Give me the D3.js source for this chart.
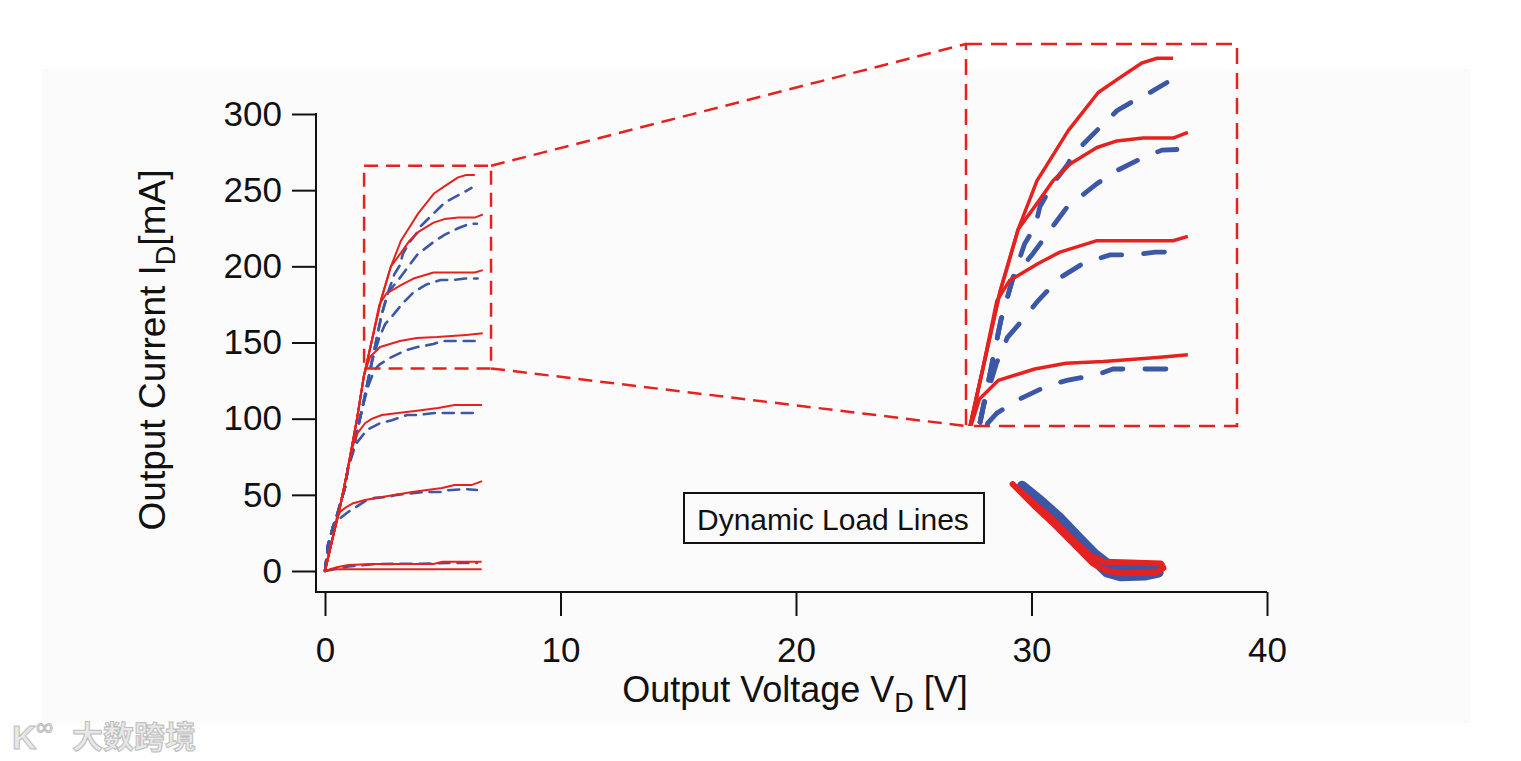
<!DOCTYPE html>
<html>
<head>
<meta charset="utf-8">
<script src="https://cdn.jsdelivr.net/npm/d3@7"></script>
<style>
  body { margin: 0; background: #fff; }
  svg { display: block; font-family: "Liberation Sans", Arial, sans-serif; }
</style>
</head>
<body>
<svg id="chart" width="1521" height="761"></svg>
<script>
const voltTicks = [0, 10, 20, 30, 40];
const currTicks = [0, 50, 100, 150, 200, 250, 300];

// solid red output curves [V, mA]
const redRise = [[0, 0], [0.3, 20], [0.64, 42], [0.98, 68], [1.36, 100], [1.65, 128], [2.0, 152], [2.38, 178], [2.8, 200]];
const red1 = [[0, 0], [0.3, 1.2], [6.65, 1.2]];
const red6 = [[0, 0], [0.5, 2.5], [1.0, 4], [2.0, 4.6], [4.6, 4.6], [5.0, 6.1], [6.65, 6.1]];
const red58 = [[0, 0], [0.3, 20], [0.5, 35], [0.65, 39], [0.85, 41.4], [1.2, 44.5], [1.7, 46.6], [2.42, 48.6], [3.0, 50], [3.7, 51.9], [4.97, 54.5], [5.5, 56.5], [6.24, 56.5], [6.67, 59]];
const red108 = [[0, 0], [0.3, 20], [0.64, 42], [0.98, 68], [1.2, 83], [1.36, 90], [1.7, 97], [2.0, 100], [2.42, 102.4], [3.1, 103.7], [3.82, 105], [4.8, 107], [5.5, 109], [6.67, 109]];
const red155 = [...redRise.slice(0, 6), [1.91, 140.5], [2.34, 147], [3.18, 151], [3.9, 153], [4.76, 153.6], [6.0, 155], [6.7, 156]];
const red197 = [...redRise.slice(0, 7), [2.31, 175], [2.6, 182], [3.26, 188], [3.76, 192], [4.61, 196], [6.36, 196], [6.7, 197.5]];
const red233 = [...redRise, [3.23, 209], [3.6, 217], [4.0, 223], [4.61, 228.7], [5.07, 231], [5.67, 232], [6.36, 232], [6.7, 234]];
const red259 = [...redRise, [3.23, 217], [3.6, 226], [3.95, 234.6], [4.64, 248], [5.07, 252.5], [5.65, 258.4], [5.99, 260], [6.36, 260]];

// dashed blue curves [V, mA]
const blueRise = [[0, 0], [0.13, 17], [0.34, 29], [0.5, 36], [0.85, 55], [0.98, 68], [1.19, 80], [1.6, 108], [2.0, 138], [2.4, 168], [2.68, 183]];
const blue5 = [[0, 0], [1.0, 3], [2.2, 4.6], [4.0, 4.8], [5.4, 5.3], [6.45, 5.3]];
const blue53 = [[0, 0], [0.13, 17], [0.34, 29], [0.55, 33.5], [0.98, 38.7], [1.78, 46.6], [2.12, 48], [2.68, 48.6], [3.06, 50], [3.82, 51.2], [4.25, 51.9], [4.97, 51.9], [5.18, 53], [5.94, 53.8], [6.45, 53.2]];
const blue104 = [...blueRise.slice(0, 6), [1.19, 77.5], [1.27, 82.7], [1.78, 92.6], [2.34, 97], [2.84, 99], [3.48, 102.4], [3.95, 102.4], [4.67, 103.7], [6.45, 103.7]];
const blue151 = [...blueRise.slice(0, 8), [1.85, 122], [2.1, 132], [2.31, 135.5], [2.77, 140], [3.46, 145], [3.92, 147], [4.61, 149], [4.98, 151], [5.65, 151], [6.45, 151]];
const blue192 = [...blueRise.slice(0, 9), [2.3, 153], [2.55, 162], [2.89, 168], [3.26, 175], [3.76, 183], [4.29, 188], [4.91, 191], [5.44, 191], [5.95, 192], [6.48, 192]];
const blue228 = [...blueRise, [3.14, 191.5], [3.58, 200.7], [3.92, 207.7], [4.61, 216], [5.07, 220.6], [5.65, 225], [6.11, 227.8], [6.45, 228]];
const blue251 = [...blueRise, [2.95, 195], [3.19, 201], [3.3, 208], [3.6, 216], [3.95, 223], [4.04, 226], [4.61, 234.7], [5.07, 241.6], [5.45, 245], [5.83, 248], [6.22, 251.5]];

const redCurves = [red1, red6, red58, red108, red155, red197, red233, red259];
const blueCurves = [blue5, blue53, blue104, blue151, blue192, blue228, blue251];

// dynamic load line loops [V, mA]
const loadBlue = [[29.6, 56], [30.4, 46], [31.2, 35], [32.0, 22], [32.7, 11], [33.3, 4], [34.0, 2.5], [35.3, 2.5], [35.4, -1], [34.8, -3], [33.8, -3.5], [33.2, -1], [32.8, 5], [32.1, 17], [31.2, 31], [30.3, 44], [29.6, 56]];
const loadRed = [[29.2, 57], [30.0, 46], [30.9, 34], [31.8, 20], [32.5, 10], [33.1, 6], [34.2, 5.5], [35.5, 5], [35.6, 2], [35.3, -1], [34.0, -1.5], [33.2, 0], [32.6, 5], [31.9, 16], [31.0, 30], [30.1, 43], [29.4, 54], [29.2, 57]];

// zoom window in the main plot and the range shown in the magnified inset
const zoomV = [1.66, 7.05], zoomI = [133, 266];
const insetV = [1.6, 7.83], insetI = [131, 265];

const RED = "#e5221f", BLUE = "#3c57a5";
const svg = d3.select("#chart");

svg.append("rect").attr("x", 42).attr("y", 69).attr("width", 1429).attr("height", 654).attr("fill", "#fbfbfb");

const x = d3.scaleLinear().domain([0, 40]).range([325, 1267]);
const y = d3.scaleLinear().domain([0, 300]).range([571, 114]);
const axisY = 592, axisX = 316;

// axes
const gx = svg.append("g").attr("transform", `translate(0,${axisY})`)
  .call(d3.axisBottom(x).tickValues(voltTicks).tickSize(24).tickSizeOuter(0).tickPadding(21));
gx.select(".domain").attr("d", `M${axisX - 1},0H${x(40)}`);
const gy = svg.append("g").attr("transform", `translate(${axisX},0)`)
  .call(d3.axisLeft(y).tickValues(currTicks).tickSize(24).tickSizeOuter(0).tickPadding(10));
gy.select(".domain").attr("d", `M0,${y(300) - 1}V${axisY}`);
svg.selectAll(".tick text").attr("font-size", 35).attr("font-family", "Liberation Sans, Arial, sans-serif").attr("fill", "#111");
svg.selectAll(".domain, .tick line").attr("stroke", "#111").attr("stroke-width", 2);

// axis titles
const xt = svg.append("text").attr("x", 795).attr("y", 702).attr("text-anchor", "middle")
  .attr("font-size", 36).attr("fill", "#111");
xt.append("tspan").text("Output Voltage V");
xt.append("tspan").attr("font-size", 27).attr("dy", 10).text("D");
xt.append("tspan").attr("dy", -10).text(" [V]");

const yt = svg.append("text").attr("transform", "translate(165,350) rotate(-90)").attr("text-anchor", "middle")
  .attr("font-size", 37).attr("fill", "#111");
yt.append("tspan").text("Output Current I");
yt.append("tspan").attr("font-size", 27).attr("dy", 10).text("D");
yt.append("tspan").attr("dy", -10).text("[mA]");

function drawCurves(g, sx, sy, redW, blueW, dash) {
  const line = d3.line().x(d => sx(d[0])).y(d => sy(d[1]));
  g.selectAll(".blue").data(blueCurves).join("path").attr("class", "blue")
    .attr("d", line).attr("fill", "none").attr("stroke", BLUE)
    .attr("stroke-width", blueW).attr("stroke-dasharray", dash).attr("stroke-linecap", "round");
  g.selectAll(".red").data(redCurves).join("path").attr("class", "red")
    .attr("d", line).attr("fill", "none").attr("stroke", RED)
    .attr("stroke-width", redW).attr("stroke-linejoin", "round");
}

drawCurves(svg.append("g"), x, y, 2, 2.6, "11,8");

// load lines
const loadLine = d3.line().x(d => x(d[0])).y(d => y(d[1]));
svg.append("path").attr("d", loadLine(loadBlue)).attr("fill", "none").attr("stroke", BLUE)
  .attr("stroke-width", 10).attr("stroke-linejoin", "round").attr("stroke-linecap", "round");
svg.append("path").attr("d", loadLine(loadRed)).attr("fill", "none").attr("stroke", RED)
  .attr("stroke-width", 6).attr("stroke-linejoin", "round").attr("stroke-linecap", "round");

// load line label
svg.append("rect").attr("x", 684).attr("y", 493).attr("width", 300).attr("height", 50)
  .attr("fill", "none").attr("stroke", "#111").attr("stroke-width", 2);
svg.append("text").attr("x", 697).attr("y", 530).attr("font-size", 30).attr("fill", "#111").text("Dynamic Load Lines");

// inset
const ix = d3.scaleLinear().domain(insetV).range([966, 1237]);
const iy = d3.scaleLinear().domain(insetI).range([426, 44]);
svg.append("clipPath").attr("id", "insetClip").append("rect")
  .attr("x", ix.range()[0]).attr("y", iy.range()[1])
  .attr("width", ix.range()[1] - ix.range()[0]).attr("height", iy.range()[0] - iy.range()[1]);
drawCurves(svg.append("g").attr("clip-path", "url(#insetClip)"), ix, iy, 3.5, 4.8, "21,22");

const boxDash = "14,8";
svg.append("rect").attr("x", x(zoomV[0])).attr("y", y(zoomI[1]))
  .attr("width", x(zoomV[1]) - x(zoomV[0])).attr("height", y(zoomI[0]) - y(zoomI[1]))
  .attr("fill", "none").attr("stroke", RED).attr("stroke-width", 2.5).attr("stroke-dasharray", boxDash);
svg.append("rect").attr("x", ix.range()[0]).attr("y", iy.range()[1])
  .attr("width", ix.range()[1] - ix.range()[0]).attr("height", iy.range()[0] - iy.range()[1])
  .attr("fill", "none").attr("stroke", RED).attr("stroke-width", 2.5).attr("stroke-dasharray", "16,9");
[[zoomI[1], iy.range()[1]], [zoomI[0], iy.range()[0]]].forEach(([v, py]) => {
  svg.append("line").attr("x1", x(zoomV[1])).attr("y1", y(v)).attr("x2", ix.range()[0]).attr("y2", py)
    .attr("stroke", RED).attr("stroke-width", 2.5).attr("stroke-dasharray", boxDash);
});

// watermark
const wm = svg.append("g").attr("fill", "#e8e8e8").attr("stroke", "#bdbdbd").attr("stroke-width", 1);
wm.append("text").attr("x", 12).attr("y", 749).attr("font-size", 34).attr("font-weight", "bold").text("K");
wm.append("text").attr("x", 36).attr("y", 735).attr("font-size", 24).text("∞");
wm.append("text").attr("x", 72).attr("y", 748).attr("font-size", 31).attr("font-family", "Noto Sans CJK SC")
  .attr("font-weight", "bold").text("大数跨境");
</script>
</body>
</html>
